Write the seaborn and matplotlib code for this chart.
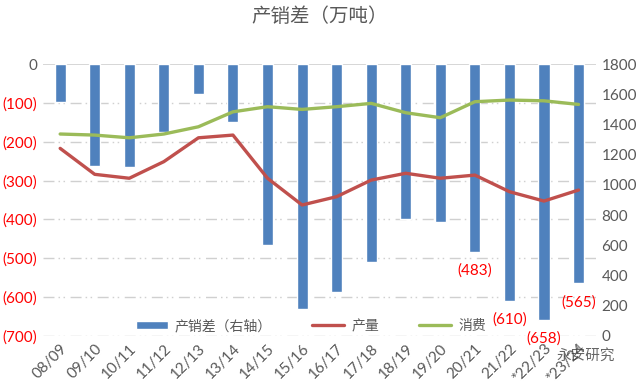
import numpy as np
import pandas as pd
import matplotlib
matplotlib.use("Agg")
import matplotlib.pyplot as plt
from matplotlib.ticker import FuncFormatter, MultipleLocator
import seaborn as sns

seasons = ["08/09", "09/10", "10/11", "11/12", "12/13", "13/14", "14/15", "15/16",
           "16/17", "17/18", "18/19", "19/20", "20/21", "21/22", "*22/23", "*23/24"]
gap = [-97, -262, -266, -174, -77, -148, -465, -631,
       -587, -510, -398, -407, -483, -610, -658, -565]
production = [1242, 1070, 1044, 1154, 1312, 1330, 1044, 867,
              922, 1032, 1077, 1044, 1065, 955, 893, 966]
consumption = [1337, 1330, 1312, 1337, 1385, 1484, 1518, 1500,
               1518, 1540, 1478, 1445, 1551, 1562, 1557, 1533]
labelled = ["20/21", "21/22", "*22/23", "*23/24"]

BLUE = "#4F81BD"
RED = "#C0504D"
GREEN = "#9BBB59"
GRAY = "#595959"
LABEL_RED = "#FF0000"

sns.set_theme(style="white")
plt.rcParams["font.family"] = ["Lato", "Noto Sans CJK SC", "DejaVu Sans"]
CJK = ["Noto Sans CJK SC", "DejaVu Sans"]

df = pd.DataFrame({"season": seasons, "gap": gap,
                   "production": production, "consumption": consumption})
df["pos"] = np.arange(len(df))

fig = plt.figure(figsize=(6.4, 3.91), dpi=100)
ax = fig.add_axes([0.067, 0.141, 0.864, 0.695])
ax2 = ax.twinx()

# bars on left axis
sns.barplot(data=df, x="pos", y="gap", color=BLUE, width=0.32, saturation=1,
            ax=ax, label="产销差（右轴）", native_scale=True)
ax.set_ylim(-700, 0)
ax.yaxis.set_major_locator(MultipleLocator(100))
ax.yaxis.set_major_formatter(FuncFormatter(
    lambda v, p: "0" if abs(v) < 1e-9 else f"({abs(v):.0f})"))
grid_style = (0, (7.9, 2.9, 1.1, 2.5, 1.1, 4.0))
for t in np.arange(-700, 0, 100):
    ax.axhline(t, color="#D0D0D0", lw=1.0, linestyle=grid_style, zorder=0)
ax.axhline(0, color="#D0D0D0", lw=1.2, zorder=0)

# data labels
for _, r in df[df["season"].isin(labelled)].iterrows():
    ax.annotate(f"({abs(r['gap']):.0f})", xy=(r["pos"], r["gap"]),
                xytext=(0, -8.5), textcoords="offset points",
                ha="center", va="top", color=LABEL_RED, fontsize=11)

# lines on right axis
sns.lineplot(data=df, x="pos", y="production", color=RED, lw=2.4, ax=ax2,
             label="产量")
sns.lineplot(data=df, x="pos", y="consumption", color=GREEN, lw=2.4, ax=ax2,
             label="消费")
ax2.set_ylim(0, 1800)
ax2.yaxis.set_major_locator(MultipleLocator(200))

ax.set_xlim(-0.5, len(seasons) - 0.5)
ax.set_xticks(df["pos"])
ax.set_xticklabels(seasons, rotation=45, ha="right", rotation_mode="anchor",
                   color=GRAY, fontsize=11)
ax.tick_params(axis="x", length=0, pad=4)
ax.tick_params(axis="y", length=0, labelsize=11, pad=4)
ax2.tick_params(axis="y", length=0, labelsize=11, labelcolor=GRAY, pad=4)
for lab in ax.get_yticklabels():
    lab.set_color(GRAY if lab.get_text() == "0" else LABEL_RED)
for a in (ax, ax2):
    a.set_xlabel("")
    a.set_ylabel("")
    for s in a.spines.values():
        s.set_visible(False)

# combined legend
h1, l1 = ax.get_legend_handles_labels()
h2, l2 = ax2.get_legend_handles_labels()
ax2.get_legend().remove()
ax.legend([], frameon=False)
leg = ax2.legend(h1 + h2, l1 + l2, loc="lower center", bbox_to_anchor=(0.485, -0.035),
                 ncol=3, frameon=False, handlelength=2.3, handleheight=0.6,
                 handletextpad=0.5, columnspacing=2.9, labelcolor=GRAY,
                 prop={"family": CJK, "size": 10})

fig.suptitle("产销差（万吨）", x=0.5, y=0.985, fontsize=14, color=GRAY,
             family=CJK)
fig.text(0.87, 0.08, "永安研究", fontsize=10.5, color="#404040", alpha=0.8,
         family=CJK)

fig.savefig("out.png", dpi=100)
